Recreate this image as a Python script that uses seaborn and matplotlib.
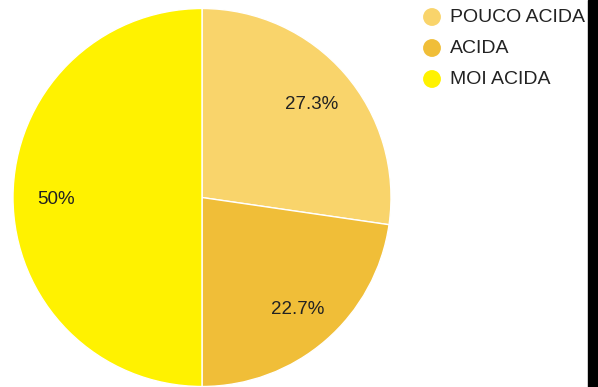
import matplotlib
matplotlib.use("Agg")
import matplotlib.pyplot as plt
import seaborn as sns

categories = ["POUCO ACIDA", "ACIDA", "MOI ACIDA"]
shares = [27.3, 22.7, 50.0]
colors = ["#F9D46B", "#F0BE38", "#FFF200"]

sns.set_theme(style="white")
plt.rcParams["font.family"] = ["Liberation Sans", "DejaVu Sans"]

W, H = 598, 387
fig = plt.figure(figsize=(W / 100, H / 100), dpi=100)
fig.patch.set_facecolor("white")

# pie axes placed in pixel terms
cx, cy, r = 202, 197.5, 189
ax = fig.add_axes([(cx - r) / W, (H - cy - r) / H, 2 * r / W, 2 * r / H])


def fmt(p):
    s = f"{p:.1f}"
    return (s[:-2] if s.endswith(".0") else s) + "%"


wedges, texts, autotexts = ax.pie(
    shares,
    colors=colors,
    startangle=90,
    counterclock=False,
    autopct=fmt,
    pctdistance=0.77,
    wedgeprops=dict(edgecolor="white", linewidth=1.0),
    textprops=dict(fontsize=13.5, color="#222222"),
)
for t in autotexts:
    t.set_va("center_baseline")
ax.set_aspect("equal")
ax.set_xlim(-1, 1)
ax.set_ylim(-1, 1)
ax.axis("off")

# legend drawn on an overlay in pixel coordinates
lax = fig.add_axes([0, 0, 1, 1], facecolor="none")
lax.set_xlim(0, W)
lax.set_ylim(H, 0)
lax.axis("off")
for i, (lab, col) in enumerate(zip(categories, colors)):
    y = 17 + i * 31
    lax.scatter([432], [y], s=165, color=col, edgecolors="none")
    lax.text(450, y + 0.5, lab, fontsize=14, color="#222222", va="center", ha="left")

# dark strip along the right edge
lax.add_patch(plt.Rectangle((588, 0), 10, H, color="black", clip_on=False, zorder=5))

fig.savefig("out.png", dpi=100, facecolor="white")
